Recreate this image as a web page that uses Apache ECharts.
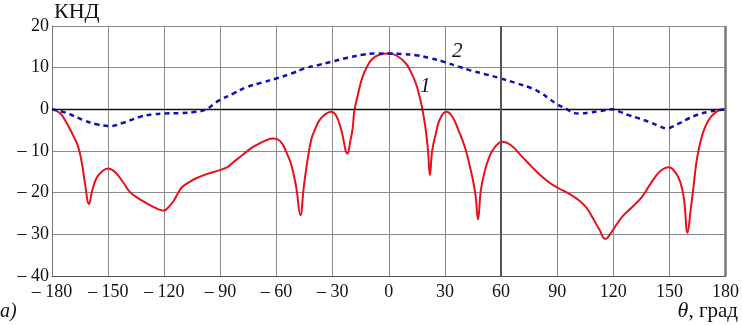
<!DOCTYPE html>
<html>
<head>
<meta charset="utf-8">
<script src="https://cdn.jsdelivr.net/npm/echarts@6/dist/echarts.min.js"></script>
<style>
html,body{margin:0;padding:0;background:#fff;}
#chart{width:742px;height:325px;}
</style>
</head>
<body>
<div id="chart"></div>
<script>
// кривая 1 (сплошная красная): [угол, КНД]
var curve1 = [
  [-180, 0], [-176, -0.8], [-173, -2.6], [-169, -6], [-166, -9], [-164, -13], [-162.4, -17.7], [-160.2, -22.7],
  [-158.5, -19.5], [-156.2, -16.5], [-153, -14.8], [-150, -14.2], [-146, -15.2], [-142, -17.5], [-138.4, -19.8],
  [-134, -21.3], [-129.6, -22.5], [-125, -23.6], [-122, -24.2], [-120.3, -24.3], [-118, -23.6], [-115, -22],
  [-112.5, -20], [-110.3, -18.6], [-106, -17.3], [-103.2, -16.6], [-97, -15.5], [-90.4, -14.6], [-86, -13.8],
  [-83.4, -12.8], [-79.7, -11.5], [-74.4, -9.6], [-70.8, -8.6], [-66, -7.5], [-62, -7.0], [-59, -7.3],
  [-56.5, -8.6], [-54.8, -10.2], [-52, -13.5], [-49.5, -18.6], [-47.2, -25.4], [-45.5, -19], [-44.2, -14.6],
  [-41.5, -7.4], [-39, -4.4], [-37, -2.6], [-34, -1.2], [-30.8, -0.6], [-28, -1.6], [-25.5, -4.8], [-22, -10.6],
  [-20.5, -7.5], [-19.3, -4.6], [-18.4, -0.5], [-16.5, 3.5], [-14, 7.8], [-11.5, 10.3], [-8.6, 12.2],
  [-5, 13.1], [0, 13.4], [4.5, 12.8], [9.2, 11], [12, 8.8], [14.5, 6.2], [16.5, 3], [18, 0], [19.8, -5],
  [21, -10], [22, -15.8], [23.2, -10], [25.2, -5.8], [27.5, -2.2], [30.8, -0.6], [34, -1.8], [37.6, -5.4],
  [40.5, -8.8], [43, -13], [45, -17], [46.5, -21], [47.7, -26.4], [49.2, -19.5], [51, -15.4], [53.6, -11.6],
  [56.5, -9.2], [60.7, -7.8], [65, -8.5], [71.4, -11.4], [76.5, -13.8], [82, -16.2], [86.5, -17.8], [91, -19],
  [96.5, -20.3], [101.6, -21.8], [105.5, -23.5], [108.7, -25.8], [112.5, -28.8], [115.8, -31.1], [119, -29.5],
  [124.7, -25.8], [130, -23.5], [135.4, -21], [139, -18.5], [142.5, -16.2], [146, -14.5], [149.6, -13.9],
  [153, -15], [155.8, -17.4], [157.8, -21.5], [159.7, -29.6], [161.4, -24], [162.9, -18.6], [164.2, -13.5],
  [165.6, -9.8], [168, -5.6], [170.9, -2.6], [174, -1], [177, -0.2], [180, 0]
];
// кривая 2 (пунктир синий)
var curve2 = [
  [-180, 0], [-172, -0.9], [-163.3, -2.6], [-156, -3.6], [-149, -4.0], [-141, -3.1], [-133, -1.8], [-126, -1.2],
  [-120.6, -1.0], [-111, -0.9], [-102.8, -0.6], [-97.5, 0], [-94, 1.1], [-90.4, 2.2], [-83, 3.8], [-76.2, 5.3],
  [-68, 6.4], [-60.2, 7.4], [-52, 8.6], [-45, 9.8], [-38, 10.6], [-30.8, 11.4], [-22, 12.4], [-14, 13.1],
  [-7, 13.4], [0, 13.4], [7, 13.3], [14.5, 13], [22, 12.3], [29.6, 11.4], [37, 10.3], [44, 9.3], [51, 8.5],
  [59.3, 7.5], [68, 6.3], [76.7, 5], [81, 4], [85.6, 2.6], [90, 1.2], [95.4, 0], [98, -0.8], [102, -1],
  [106.9, -0.8], [113, -0.4], [119.4, 0], [123, -0.5], [128.3, -1.4], [134, -2.2], [139, -3], [144, -3.9],
  [148.7, -4.6], [152, -4.1], [156, -3.2], [160.3, -2.2], [165, -1.3], [171, -0.6], [176, -0.2], [180, 0]
];
var xTicks = { min: -180, max: 180, step: 30 };
var yTicks = { min: -40, max: 20, step: 10 };

function dashLabel(v) {
  return v < 0 ? '\u2013 ' + Math.abs(v) : String(v);
}

var serif = 'Liberation Serif';
var chart = echarts.init(document.getElementById('chart'));
var option = {
  animation: false,
  backgroundColor: '#fff',
  grid: { left: 52, right: 15, top: 26, bottom: 49 },
  xAxis: {
    type: 'value', min: xTicks.min, max: xTicks.max, interval: xTicks.step,
    axisLine: { show: true, onZero: false, lineStyle: { color: '#555', width: 1 } },
    axisTick: { show: false },
    axisLabel: { color: '#111', fontFamily: serif, fontSize: 18, margin: 7, formatter: dashLabel },
    splitLine: { show: true, lineStyle: { color: '#8a8a8a', width: 1 } }
  },
  yAxis: {
    type: 'value', min: yTicks.min, max: yTicks.max, interval: yTicks.step,
    axisLine: { show: true, onZero: false, lineStyle: { color: '#777', width: 1 } },
    axisTick: { show: false },
    axisLabel: { color: '#111', fontFamily: serif, fontSize: 18, margin: 3, formatter: dashLabel },
    splitLine: { show: true, lineStyle: { color: '#8a8a8a', width: 1 } }
  },
  series: [
    {
      type: 'line', data: curve1, symbol: 'none', smooth: 0.45, z: 3,
      lineStyle: { color: '#e8101a', width: 2 },
      markLine: {
        silent: true, symbol: 'none', label: { show: false },
        data: [
          { yAxis: 0, lineStyle: { color: '#111', width: 1.3, type: 'solid' } },
          { xAxis: 60, lineStyle: { color: '#555', width: 2, type: 'solid' } },
          { xAxis: 180, lineStyle: { color: '#777', width: 2.5, type: 'solid' } }
        ]
      }
    },
    {
      type: 'line', data: curve2, symbol: 'none', smooth: 0.4, z: 4,
      lineStyle: { color: '#1010b8', width: 2.5, type: [5, 4] }
    }
  ],
  graphic: [
    { type: 'text', left: 54, top: 1, style: { text: 'КНД', fontFamily: serif, fontSize: 22, fill: '#111' } },
    { type: 'text', left: 420, top: 76, style: { text: '1', fontFamily: serif, fontSize: 21, fontStyle: 'italic', fill: '#111' } },
    { type: 'text', left: 452, top: 41, style: { text: '2', fontFamily: serif, fontSize: 21, fontStyle: 'italic', fill: '#111' } },
    { type: 'text', left: 0, top: 302, style: { text: 'а)', fontFamily: serif, fontSize: 20, fontStyle: 'italic', fill: '#111' } },
    { type: 'text', right: 4, top: 300, style: {
        rich: {
          t: { fontFamily: serif, fontSize: 22, fontStyle: 'italic', fill: '#111' },
          r: { fontFamily: serif, fontSize: 21, fill: '#111' }
        },
        text: '{t|θ}{r|, град}'
    } }
  ]
};
chart.setOption(option);
</script>
</body>
</html>
